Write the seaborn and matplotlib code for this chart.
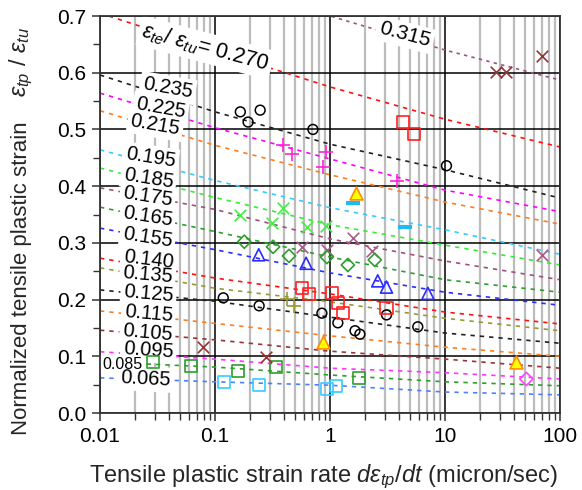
import matplotlib
matplotlib.use('Agg')
import matplotlib.pyplot as plt
import seaborn as sns
import pandas as pd
from matplotlib.ticker import FixedLocator, NullFormatter, FuncFormatter, MultipleLocator

# ---------------- data ----------------
RATE_GRID = [0.01, 0.1, 1, 10, 100]

c315 = [0.840, 0.770, 0.700, 0.640, 0.587]
c270 = [0.705, 0.639, 0.575, 0.518, 0.469]
c235 = [0.596, 0.531, 0.474, 0.429, 0.379]
c225 = [0.564, 0.503, 0.448, 0.393, 0.355]
c215 = [0.533, 0.472, 0.420, 0.372, 0.333]
c195 = [0.464, 0.410, 0.362, 0.323, 0.280]
c185 = [0.432, 0.380, 0.332, 0.296, 0.261]
c175 = [0.397, 0.359, 0.307, 0.268, 0.235]
c165 = [0.363, 0.320, 0.275, 0.235, 0.213]
c155 = [0.326, 0.288, 0.247, 0.213, 0.190]
c140 = [0.273, 0.238, 0.210, 0.178, 0.157]
c135 = [0.256, 0.220, 0.196, 0.167, 0.145]
c125 = [0.217, 0.197, 0.169, 0.141, 0.123]
c115 = [0.180, 0.158, 0.136, 0.116, 0.100]
c105 = [0.146, 0.129, 0.109, 0.095, 0.079]
c095 = [0.108, 0.095, 0.079, 0.071, 0.060]
c085 = [0.090, 0.081, 0.067, 0.055, 0.048]
c065 = [0.062, 0.055, 0.049, 0.037, 0.032]

curve_names = ['0.315', '0.270', '0.235', '0.225', '0.215', '0.195', '0.185',
               '0.175', '0.165', '0.155', '0.140', '0.135', '0.125', '0.115',
               '0.105', '0.095', '0.065', '0.085']
curve_values = [c315, c270, c235, c225, c215, c195, c185, c175, c165, c155,
                c140, c135, c125, c115, c105, c095, c065, c085]

# data points
circ_x = [0.166, 0.194, 0.247, 0.71, 10.3, 0.118, 0.242, 0.85, 1.17, 1.65, 1.82, 3.1, 5.8]
circ_y = [0.531, 0.513, 0.534, 0.500, 0.436, 0.203, 0.189, 0.176, 0.159, 0.145, 0.139, 0.173, 0.152]
rsq_x = [4.3, 5.35, 0.57, 0.66, 1.05, 1.17, 1.3, 3.1]
rsq_y = [0.513, 0.492, 0.220, 0.210, 0.211, 0.194, 0.176, 0.185]
mplus_x = [0.39, 0.47, 0.92, 0.87, 3.8]
mplus_y = [0.472, 0.457, 0.460, 0.434, 0.409]
mdia_x = [51]
mdia_y = [0.060]
ytri_x = [1.68, 0.87, 41.7]
ytri_y = [0.388, 0.126, 0.090]
cdash_x = [1.58, 4.5]
cdash_y = [0.370, 0.328]
csq_x = [0.12, 0.24, 0.94, 1.12]
csq_y = [0.055, 0.049, 0.042, 0.048]
gsq_x = [0.029, 0.062, 0.16, 0.34, 1.79]
gsq_y = [0.090, 0.083, 0.074, 0.081, 0.062]
drx_x = [0.079, 0.28, 28, 34, 70]
drx_y = [0.116, 0.099, 0.601, 0.601, 0.630]
mvx_x = [1.58, 2.3, 70, 0.57, 0.94]
mvx_y = [0.309, 0.286, 0.279, 0.293, 0.287]
bgx_x = [0.166, 0.31, 0.39, 0.63, 0.92]
bgx_y = [0.349, 0.335, 0.362, 0.328, 0.330]
gdia_x = [0.18, 0.32, 0.44, 0.94, 1.43, 2.45]
gdia_y = [0.302, 0.293, 0.277, 0.275, 0.261, 0.270]
btri_x = [0.24, 0.62, 2.6, 3.1, 7.1]
btri_y = [0.279, 0.264, 0.233, 0.222, 0.211]
oplus_x = [0.42, 0.49]
oplus_y = [0.201, 0.188]

x_ticks = [0.01, 0.1, 1, 10, 100]
x_tick_labels = ['0.01', '0.1', '1', '10', '100']
y_ticks = [0.0, 0.1, 0.2, 0.3, 0.4, 0.5, 0.6, 0.7]

# ---------------- styles ----------------
curve_colors = ['#a05080', '#ff1010', '#202020', '#ff00ff', '#ff7f1e', '#33ccff',
                '#33ee33', '#a05080', '#2e9e2e', '#2b2bff', '#ff1010', '#999933',
                '#202020', '#ff7f1e', '#993333', '#ff33ff', '#4d80ff', '#2e9e2e']
label_pos = [(4.48, 0.667), (0.0828, 0.644), (0.0388, 0.573), (0.0336, 0.538),
             (0.0303, 0.508), (0.0275, 0.450), (0.0264, 0.414), (0.0259, 0.381),
             (0.0259, 0.346), (0.0259, 0.310), (0.0264, 0.270), (0.0259, 0.243),
             (0.0264, 0.210), (0.0264, 0.175), (0.0259, 0.141), (0.0264, 0.111),
             (0.0249, 0.060), (0.0158, 0.085)]
label_rot = [-15, -15, -10, -10, -10, -9, -9, -9, -9, -9, -7, -5, -5, -5, -5, -4, -3, 0]

sns.set_theme(style='white')
plt.rcParams['font.family'] = ['Liberation Sans', 'DejaVu Sans']
plt.rcParams['mathtext.fontset'] = 'custom'
plt.rcParams['mathtext.rm'] = 'Liberation Sans'
plt.rcParams['mathtext.it'] = 'Liberation Sans:italic'
plt.rcParams['mathtext.bf'] = 'Liberation Sans:bold'

fig = plt.figure(figsize=(5.82, 4.90), dpi=100)
ax = fig.add_axes([100 / 582, 1 - 413 / 490, 460 / 582, 397 / 490])
ax.set_xscale('log')
ax.set_xlim(0.01, 100)
ax.set_ylim(0.0, 0.7)

# grid
for dec in [0.01, 0.1, 1, 10]:
    for m in range(2, 10):
        ax.axvline(dec * m, color='#bcbcbc', lw=1.6, zorder=0.5)
for xv in x_ticks:
    ax.axvline(xv, color='black', lw=1.1, zorder=0.6)
for yv in y_ticks:
    ax.axhline(yv, color='black', lw=1.1, zorder=0.6)

# curves
for name, vals, col in zip(curve_names, curve_values, curve_colors):
    df = pd.DataFrame({'rate': RATE_GRID, 'ratio': vals})
    dash = (0, (2.0, 2.6)) if name == '0.315' else (0, (2.6, 3.0))
    sns.lineplot(data=df, x='rate', y='ratio', ax=ax, color=col, lw=1.2,
                 linestyle=dash, zorder=2, sort=True)

# labels: white boxes first, then all texts on top
for i, (name, pos, rot) in enumerate(zip(curve_names, label_pos, label_rot)):
    if name == '0.270':
        txt = r'$\varepsilon_{te}$/ $\varepsilon_{tu}$= 0.270'
        fs = 15.5
    elif name == '0.085':
        txt = name
        fs = 11.5
    elif name == '0.315':
        txt = name
        fs = 15
    else:
        txt = name
        fs = 14.5
    kw = dict(fontsize=fs, rotation=rot, ha='center', va='center', rotation_mode='anchor')
    ax.text(pos[0], pos[1], txt, color=(1, 1, 1, 0), zorder=3,
            bbox=dict(boxstyle='square,pad=0.15', fc='white', ec='none'), **kw)
    ax.text(pos[0], pos[1], txt, color='black', zorder=3.5, **kw)

# markers
def open_pts(xs, ys, marker, col, s, lw=1.2):
    sns.scatterplot(x=xs, y=ys, ax=ax, marker=marker, s=s, facecolors='none',
                    edgecolor=col, linewidth=lw, zorder=4)

def line_pts(xs, ys, marker, col, s, lw=1.2):
    sns.scatterplot(x=xs, y=ys, ax=ax, marker=marker, s=s, color=col,
                    linewidth=lw, zorder=4)

open_pts(circ_x, circ_y, 'o', 'black', 50, lw=1.1)
open_pts(rsq_x, rsq_y, 's', '#ff2020', 75)
line_pts(mplus_x, mplus_y, '+', '#ff22dd', 90)
open_pts(mdia_x, mdia_y, 'D', '#ff44ff', 45)
sns.scatterplot(x=ytri_x, y=ytri_y, ax=ax, marker='^', s=85, color='#ffff00',
                edgecolor='#ff8c00', linewidth=1.2, zorder=4)
line_pts(cdash_x, cdash_y, '_', '#22bbee', 110, lw=3)
open_pts(csq_x, csq_y, 's', '#33ccff', 75)
open_pts(gsq_x, gsq_y, 's', '#2e9e2e', 75)
line_pts(drx_x, drx_y, 'x', '#993333', 70)
line_pts(mvx_x, mvx_y, 'x', '#aa5c88', 70)
line_pts(bgx_x, bgx_y, 'x', '#44ee44', 70)
open_pts(gdia_x, gdia_y, 'D', '#2e9e2e', 45)
open_pts(btri_x, btri_y, '^', '#2b2bff', 75)
line_pts(oplus_x, oplus_y, '+', '#999933', 90)

# axes
ax.xaxis.set_major_locator(FixedLocator(x_ticks))
ax.xaxis.set_major_formatter(FuncFormatter(lambda v, p: x_tick_labels[x_ticks.index(v)] if v in x_ticks else ''))
ax.xaxis.set_minor_locator(FixedLocator([d * m for d in [0.01, 0.1, 1, 10] for m in range(2, 10)]))
ax.xaxis.set_minor_formatter(NullFormatter())
ax.yaxis.set_major_locator(FixedLocator(y_ticks))
ax.yaxis.set_major_formatter(FuncFormatter(lambda v, p: f'{v:.1f}'))
ax.yaxis.set_minor_locator(MultipleLocator(0.05))
ax.tick_params(axis='both', which='major', direction='out', length=6, width=1.1,
               color='#333333', labelsize=15, labelcolor='black', pad=4,
               bottom=True, left=True)
ax.tick_params(axis='both', which='minor', direction='out', length=5, width=1.0,
               color='#333333', bottom=True, left=True)
for sp in ax.spines.values():
    sp.set_color('#333333')
    sp.set_linewidth(1.3)
    sp.set_zorder(5)

ax.set_xlabel(r'Tensile plastic strain rate $d\varepsilon_{tp}/dt$ (micron/sec)', fontsize=17)
ax.xaxis.set_label_coords(0.487, -0.125)
ax.set_ylabel('')
fig.text(22 / 582, 1 - 278 / 490, 'Normalized tensile plastic strain', fontsize=16,
         rotation=90, ha='center', va='center')
fig.text(21 / 582, 1 - 62 / 490, r'$\varepsilon_{tp}$ / $\varepsilon_{tu}$', fontsize=17,
         rotation=90, ha='center', va='center')
ax.grid(False)
if ax.get_legend() is not None:
    ax.get_legend().remove()

fig.savefig('out.png', dpi=100)
